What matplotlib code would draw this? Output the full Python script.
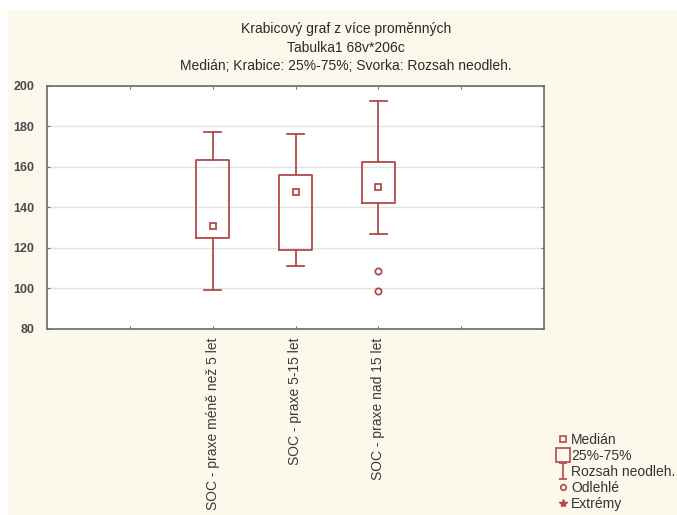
import matplotlib
matplotlib.use("Agg")
import matplotlib.pyplot as plt
from matplotlib.lines import Line2D
from matplotlib.patches import Rectangle
from matplotlib.path import Path

plt.rcParams['font.family'] = ['Liberation Sans', 'DejaVu Sans']

# Box plot summary values per group
categories = ["SOC - praxe méně než 5 let", "SOC - praxe 5-15 let", "SOC - praxe nad 15 let"]
medians = [131, 147.5, 150]
q1 = [125, 119, 142]
q3 = [163.5, 156, 162.5]
whisker_low = [99.5, 111, 127]
whisker_high = [177.5, 176.5, 192.5]
outliers = [[], [], [108.5, 99]]

title_lines = ["Krabicový graf z více proměnných",
               "Tabulka1 68v*206c",
               "Medián; Krabice: 25%-75%; Svorka: Rozsah neodleh."]
legend_labels = ["Medián", "25%-75%", "Rozsah neodleh.", "Odlehlé", "Extrémy"]

RED = "#b04a4a"
CREAM = "#fdf8ec"
TXT = "#3a3a3a"

fig = plt.figure(figsize=(6.77, 5.15), dpi=100)
fig.patch.set_facecolor("white")
fig.patches.append(Rectangle((8 / 677, 0), 1, 1 - 10 / 515, transform=fig.transFigure,
                             facecolor=CREAM, edgecolor="none", zorder=-10))

ax = fig.add_axes([47 / 677, 1 - 329 / 515, 497 / 677, 243 / 515])
ax.set_facecolor("white")

positions = [2, 3, 4]
stats = []
for i in range(len(categories)):
    stats.append(dict(med=medians[i], q1=q1[i], q3=q3[i],
                      whislo=whisker_low[i], whishi=whisker_high[i],
                      fliers=outliers[i]))

ax.bxp(stats, positions=positions, widths=0.4, showfliers=True,
       boxprops=dict(color=RED, linewidth=1.3),
       whiskerprops=dict(color=RED, linewidth=1.3),
       capprops=dict(color=RED, linewidth=1.3),
       capwidths=0.21,
       medianprops=dict(linewidth=0),
       flierprops=dict(marker='o', markerfacecolor='none', markeredgecolor=RED,
                       markersize=4.5, markeredgewidth=1.3),
       zorder=3)
ax.plot(positions, medians, linestyle='none', marker='s', markersize=4.5,
        markerfacecolor='none', markeredgecolor=RED, markeredgewidth=1.3, zorder=4)

ax.set_xlim(0, 6)
ax.set_ylim(80, 200)
ax.set_yticks(range(80, 201, 20))
ax.set_xticks([1, 2, 3, 4, 5])
ax.set_xticklabels([""] + categories + [""], rotation=90, va='top', ha='center',
                   fontsize=10, color=TXT)
ax.tick_params(axis='y', labelsize=9, labelcolor="#4a4a4a", direction='in', length=2,
               right=True, color="#707070", pad=9)
ax.tick_params(axis='x', direction='in', length=2, top=True, color="#707070", pad=6)
for lab in ax.get_yticklabels():
    lab.set_fontweight('bold')
ax.grid(axis='y', color='#e2e2e2', linewidth=1)
ax.set_axisbelow(True)
for s in ax.spines.values():
    s.set_color('#6a6a6a')
    s.set_linewidth(1.2)

# Three-line heading
cx = 346 / 677
for k, line in enumerate(title_lines):
    fig.text(cx, 1 - (29 + 18.5 * k) / 515, line, ha='center', va='center',
             fontsize=10, color='#2a2a2a')

# Legend of the box-plot symbols
whisker_path = Path([(-0.5, 1), (0.5, 1), (0, 1), (0, -1), (-0.5, -1), (0.5, -1)],
                    [Path.MOVETO, Path.LINETO, Path.MOVETO, Path.LINETO,
                     Path.MOVETO, Path.LINETO])
handles = [
    Line2D([], [], linestyle='none', marker='s', markersize=4, markerfacecolor='none',
           markeredgecolor=RED, markeredgewidth=1.2),
    Line2D([], [], linestyle='none', marker='s', markersize=10, markerfacecolor='none',
           markeredgecolor=RED, markeredgewidth=1.2),
    Line2D([], [], linestyle='none', marker=whisker_path, markersize=11,
           markerfacecolor='none', markeredgecolor=RED, markeredgewidth=1.2),
    Line2D([], [], linestyle='none', marker='o', markersize=4, markerfacecolor='none',
           markeredgecolor=RED, markeredgewidth=1.2),
    Line2D([], [], linestyle='none', marker='*', markersize=6, markerfacecolor=RED,
           markeredgecolor=RED),
]
fig.legend(handles, legend_labels, loc='upper left',
           bbox_to_anchor=(549 / 677, 1 - 426 / 515), frameon=False,
           fontsize=10, handlelength=1.0, handletextpad=0.1, labelspacing=0.15,
           borderpad=0, labelcolor='#333333')

fig.savefig("out.png", dpi=100, facecolor=fig.get_facecolor())
